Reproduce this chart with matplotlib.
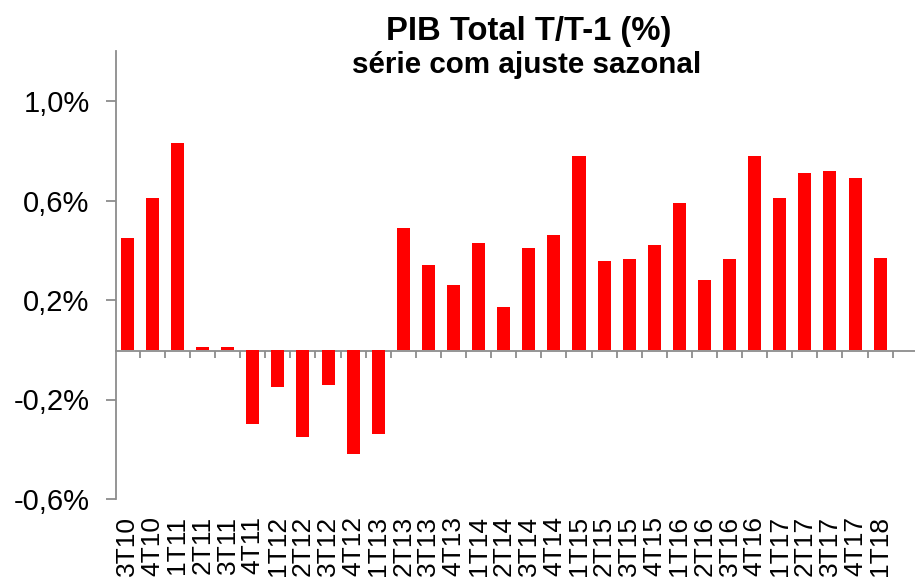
import numpy as np
import matplotlib
matplotlib.use("Agg")
import matplotlib.pyplot as plt
from matplotlib.ticker import FixedLocator, FuncFormatter

# quarters and q/q growth (%), seasonally adjusted
quarters = ["3T10", "4T10", "1T11", "2T11", "3T11", "4T11", "1T12", "2T12",
            "3T12", "4T12", "1T13", "2T13", "3T13", "4T13", "1T14", "2T14",
            "3T14", "4T14", "1T15", "2T15", "3T15", "4T15", "1T16", "2T16",
            "3T16", "4T16", "1T17", "2T17", "3T17", "4T17", "1T18"]
growth = [0.45, 0.61, 0.83, 0.01, 0.01, -0.30, -0.15, -0.35,
          -0.14, -0.42, -0.34, 0.49, 0.34, 0.26, 0.43, 0.17,
          0.41, 0.46, 0.78, 0.355, 0.365, 0.42, 0.59, 0.28,
          0.365, 0.78, 0.61, 0.71, 0.72, 0.69, 0.37]
yticks = [-0.6, -0.2, 0.2, 0.6, 1.0]

title = "PIB Total T/T-1 (%)"
subtitle = "série com ajuste sazonal"

plt.rcParams['font.family'] = ['Liberation Sans', 'DejaVu Sans']
gray = "#8c8c8c"

fig = plt.figure(figsize=(9.15, 5.83), dpi=100)
ax = fig.add_axes([116/915, (583-499)/583, 1 - 116/915, (499-51.25)/583])

x = np.arange(len(quarters))
ax.bar(x, growth, width=0.52, color="#ff0000", zorder=3)

ax.set_xlim(-0.45, 31.39)
ax.set_ylim(-0.6, 1.2)

# spines
for s in ["top", "right"]:
    ax.spines[s].set_visible(False)
ax.spines["left"].set_color(gray)
ax.spines["left"].set_linewidth(1.3)
ax.spines["bottom"].set_color(gray)
ax.spines["bottom"].set_linewidth(1.3)
ax.spines["bottom"].set_position(("data", -0.004))

# y axis
ax.yaxis.set_major_locator(FixedLocator(yticks))
ax.yaxis.set_major_formatter(FuncFormatter(lambda v, p: ("%.1f%%" % v).replace(".", ",")))
ax.tick_params(axis="y", length=7, width=1.3, color=gray, pad=12,
               labelsize=21, labelcolor="black")

# x axis: small ticks between categories, labels far below
ax.set_xticks(x)
ax.set_xticklabels(quarters, rotation=90)
ax.set_xticks(np.arange(0.5, len(quarters)), minor=True)
ax.tick_params(axis="x", which="major", length=0, pad=119, labelsize=19)
ax.tick_params(axis="x", which="minor", length=5, width=1.3, color=gray, direction="out")

fig.text(529/915, 1 - 40/583, title, ha="center", va="baseline",
         fontsize=23.6, fontweight="bold")
fig.text(527/915, 1 - 73/583, subtitle, ha="center", va="baseline",
         fontsize=21.3, fontweight="bold")

fig.savefig("out.png", dpi=100)
